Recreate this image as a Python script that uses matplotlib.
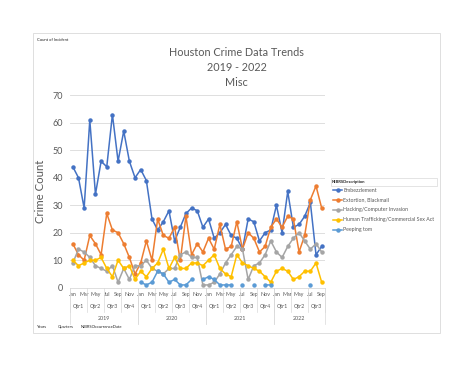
import numpy as np
import matplotlib
matplotlib.use("Agg")
import matplotlib.pyplot as plt
from matplotlib.lines import Line2D
from matplotlib.patches import Rectangle

plt.rcParams["font.family"] = ["Lato", "DejaVu Sans"]

# ── data (monthly counts, Jan 2019 .. Sep 2022) ─────────────────────────────
months = ["Jan", "Feb", "Mar", "Apr", "May", "Jun",
          "Jul", "Aug", "Sep", "Oct", "Nov", "Dec"] * 3 + \
         ["Jan", "Feb", "Mar", "Apr", "May", "Jun", "Jul", "Aug", "Sep"]
quarters = ["Qtr1", "Qtr2", "Qtr3", "Qtr4"] * 3 + ["Qtr1", "Qtr2", "Qtr3"]
years = ["2019", "2020", "2021", "2022"]

series_names = ["Embezzlement", "Extortion, Blackmail", "Hacking/Computer Invasion",
                "Human Trafficking/Commercial Sex Act", "Peeping tom"]
series_colors = ["#4472C4", "#ED7D31", "#A5A5A5", "#FFC000", "#5B9BD5"]

embezzlement = [44, 40, 29, 61, 34, 46, 44, 63, 46, 57, 46, 40,
                43, 39, 25, 21, 24, 28, 17, 22, 27, 29, 28, 22,
                25, 18, 20, 23, 19, 18, 14, 25, 24, 17, 20, 21,
                30, 20, 35, 22, 23, 26, 31, 12, 15]
extortion = [16, 12, 10, 19, 16, 12, 27, 21, 20, 16, 11, 5,
             9, 17, 10, 25, 19, 18, 22, 10, 26, 12, 16, 13,
             18, 14, 23, 14, 15, 24, 14, 20, 18, 13, 15, 22,
             25, 22, 26, 25, 13, 19, 32, 37, 29]
hacking = [9, 14, 13, 11, 8, 7, 6, 8, 2, 7, 3, 8,
           8, 10, 7, 6, 5, 7, 7, 12, 13, 11, 11, 1,
           1, 2, 5, 9, 12, 15, 14, 3, 8, 9, 12, 17,
           13, 11, 15, 18, 20, 17, 14, 16, 13]
trafficking = [10, 8, 9, 10, 10, 11, 7, 4, 10, 7, 8, 3,
               6, 4, 7, 9, 14, 7, 11, 7, 7, 9, 9, 8,
               10, 12, 7, 5, 4, 12, 9, 8, 7, 6, 4, 2,
               6, 7, 6, 3, 4, 6, 6, 9, 2]
nan = np.nan
peeping = [nan] * 12 + \
          [2, 1, 2, 6, 5, 2, 3, 1, 1, 3, nan, 3,
           4, 3, 1, 1, 1, nan, 1, nan, 1, nan, 1, 1,
           nan, nan, nan, nan, nan, nan, 1, nan, nan]

all_series = [embezzlement, extortion, hacking, trafficking, peeping]

W, H = 474, 366
GRAY = "#595959"
LIGHT = "#D9D9D9"


def fx(px):
    return px / W


def fy(py):
    return 1 - py / H


fig = plt.figure(figsize=(W / 100, H / 100), dpi=100)

# chart area frame
fig.add_artist(Rectangle((fx(33), fy(333)), fx(440) - fx(33), fy(33) - fy(333),
                         transform=fig.transFigure, fill=False, ec=LIGHT, lw=0.6))

ax = fig.add_axes([fx(70), fy(287.7), fx(324.5) - fx(70), fy(95.3) - fy(287.7)])
x = np.arange(len(months))
for vals, col in zip(all_series, series_colors):
    ax.plot(x, np.array(vals, dtype=float), color=col, lw=1.1,
            marker="o", markersize=2.2, zorder=3)

ax.set_xlim(-0.5, len(months) - 0.5)
ax.set_ylim(0, 70)
ax.set_yticks(range(0, 71, 10))
ax.yaxis.grid(True, color=LIGHT, lw=0.6)
ax.set_axisbelow(True)
for s in ["top", "right", "left"]:
    ax.spines[s].set_visible(False)
ax.spines["bottom"].set_color(LIGHT)
ax.spines["bottom"].set_linewidth(0.6)
ax.tick_params(axis="y", length=0, pad=5, labelsize=6.5, labelcolor=GRAY)

ax.set_xticks(x[::2])
ax.set_xticklabels(months[::2])
ax.tick_params(axis="x", length=0, pad=3.4, labelsize=3.9, labelcolor=GRAY)

ax.set_ylabel("Crime Count", fontsize=8.2, color=GRAY, labelpad=5)

# quarter and year rows of the category axis
tr = ax.get_xaxis_transform()
for i, q in enumerate(quarters):
    ax.text(i * 3 + 1, -0.099, q, transform=tr, ha="center", va="center",
            fontsize=3.9, color=GRAY, clip_on=False)
for i in range(len(quarters) + 1):
    xb = min(i * 3, len(months)) - 0.5
    ax.add_line(Line2D([xb, xb], [0, -0.125], transform=tr, color=LIGHT,
                       lw=0.5, clip_on=False))
year_spans = [(0, 12), (12, 24), (24, 36), (36, 45)]
for yr, (a, b) in zip(years, year_spans):
    ax.text((a + b - 1) / 2, -0.158, yr, transform=tr, ha="center", va="center",
            fontsize=3.9, color=GRAY, clip_on=False)
    for xb in (a - 0.5, b - 0.5):
        ax.add_line(Line2D([xb, xb], [0, -0.19], transform=tr, color=LIGHT,
                           lw=0.5, clip_on=False))

# title
title_lines = ["Houston Crime Data Trends", "2019 - 2022", "Misc"]
for i, t in enumerate(title_lines):
    fig.text(fx(236.5), fy(53 + 14.5 * i), t, ha="center", va="center",
             fontsize=7.8, color=GRAY)

# pivot field buttons
fig.text(fx(37), fy(40), "Count of Incident", fontsize=3.0, color="#222222", va="center")
for lbl, px in [("Years", 37), ("Quarters", 58), ("NIBRSOccurrenceDate", 81)]:
    fig.text(fx(px), fy(327), lbl, fontsize=3.0, color="#222222", va="center")

# legend
fig.add_artist(Rectangle((fx(331), fy(186)), fx(437) - fx(331), fy(178) - fy(186),
                         transform=fig.transFigure, fill=False, ec=LIGHT, lw=0.5))
fig.text(fx(332), fy(182), "NIBRSDescription", fontsize=3.0, fontweight="bold",
         color="#222222", va="center")
for i, (name, col) in enumerate(zip(series_names, series_colors)):
    yy = fy(190 + 10 * i)
    fig.add_artist(Line2D([fx(333), fx(342)], [yy, yy], transform=fig.transFigure,
                          color=col, lw=1.1))
    fig.add_artist(Line2D([fx(337.5)], [yy], transform=fig.transFigure, color=col,
                          marker="o", markersize=2.2))
    fig.text(fx(343), yy, name, fontsize=3.8, color=GRAY, va="center")

fig.savefig("out.png", dpi=100)
